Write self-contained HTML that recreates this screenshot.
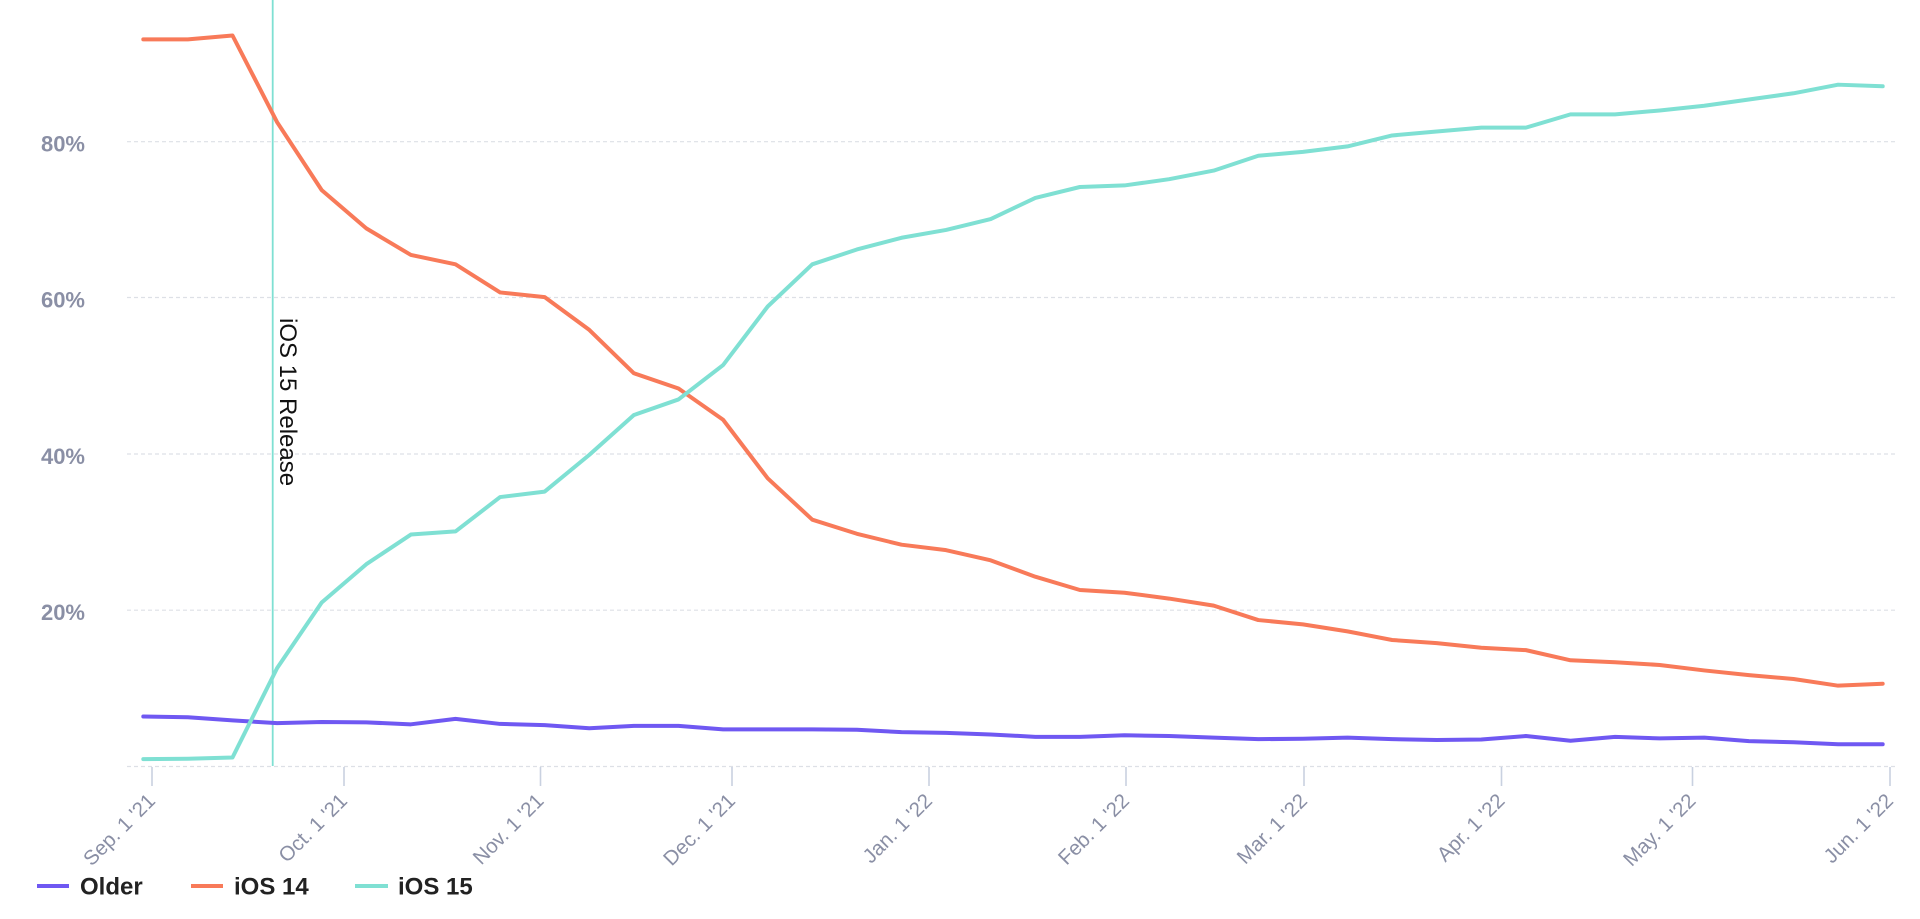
<!DOCTYPE html>
<html>
<head>
<meta charset="utf-8">
<style>
  html, body { margin: 0; padding: 0; background: #ffffff; }
  svg { display: block; }
  .ylab { font-family: "Liberation Sans", Arial, sans-serif; font-weight: bold; font-size: 22px; fill: #8a8fa5; }
  .xlab { font-family: "Liberation Sans", Arial, sans-serif; font-size: 20.5px; fill: #8a8fa5; }
  .leg { font-family: "Liberation Sans", Arial, sans-serif; font-weight: bold; font-size: 24px; fill: #222222; }
  .rel { font-family: "Liberation Sans", Arial, sans-serif; font-size: 24px; fill: #111111; }
</style>
</head>
<body>
<svg width="1920" height="919" viewBox="0 0 1920 919" xmlns="http://www.w3.org/2000/svg">
  <rect x="0" y="0" width="1920" height="919" fill="#ffffff"/>

  <!-- grid lines -->
  <g stroke="#dde0e6" stroke-width="1.2" stroke-dasharray="4,3" fill="none">
    <line x1="127" y1="141.7" x2="1897" y2="141.7"/>
    <line x1="127" y1="297.5" x2="1897" y2="297.5"/>
    <line x1="127" y1="454" x2="1897" y2="454"/>
    <line x1="127" y1="610.2" x2="1897" y2="610.2"/>
    <line x1="127" y1="766.5" x2="1897" y2="766.5"/>
  </g>

  <!-- y labels -->
  <text class="ylab" x="85" y="151.5" text-anchor="end">80%</text>
  <text class="ylab" x="85" y="307.3" text-anchor="end">60%</text>
  <text class="ylab" x="85" y="463.8" text-anchor="end">40%</text>
  <text class="ylab" x="85" y="620" text-anchor="end">20%</text>

  <!-- x ticks -->
  <g stroke="#c9d1e0" stroke-width="1.6">
    <line x1="152" y1="767" x2="152" y2="786"/>
    <line x1="344" y1="767" x2="344" y2="786"/>
    <line x1="540.5" y1="767" x2="540.5" y2="786"/>
    <line x1="732" y1="767" x2="732" y2="786"/>
    <line x1="929" y1="767" x2="929" y2="786"/>
    <line x1="1126" y1="767" x2="1126" y2="786"/>
    <line x1="1304" y1="767" x2="1304" y2="786"/>
    <line x1="1501.5" y1="767" x2="1501.5" y2="786"/>
    <line x1="1692.5" y1="767" x2="1692.5" y2="786"/>
    <line x1="1890" y1="767" x2="1890" y2="786"/>
  </g>

  <!-- x labels -->
  <text class="xlab" text-anchor="end" transform="translate(156.5,802) rotate(-45)">Sep. 1 '21</text>
  <text class="xlab" text-anchor="end" transform="translate(348.5,802) rotate(-45)">Oct. 1 '21</text>
  <text class="xlab" text-anchor="end" transform="translate(545,802) rotate(-45)">Nov. 1 '21</text>
  <text class="xlab" text-anchor="end" transform="translate(736.5,802) rotate(-45)">Dec. 1 '21</text>
  <text class="xlab" text-anchor="end" transform="translate(933.5,802) rotate(-45)">Jan. 1 '22</text>
  <text class="xlab" text-anchor="end" transform="translate(1130.5,802) rotate(-45)">Feb. 1 '22</text>
  <text class="xlab" text-anchor="end" transform="translate(1308.5,802) rotate(-45)">Mar. 1 '22</text>
  <text class="xlab" text-anchor="end" transform="translate(1506,802) rotate(-45)">Apr. 1 '22</text>
  <text class="xlab" text-anchor="end" transform="translate(1697,802) rotate(-45)">May. 1 '22</text>
  <text class="xlab" text-anchor="end" transform="translate(1894.5,802) rotate(-45)">Jun. 1 '22</text>

  <!-- release line -->
  <line x1="272.7" y1="0" x2="272.7" y2="766" stroke="#7fe0d3" stroke-width="1.8"/>
  <text class="rel" transform="translate(280,318) rotate(90)">iOS 15 Release</text>

  <!-- series -->
  <g transform="translate(143.3,766.5) scale(44.6,-7.81)" fill="none" stroke-linejoin="round" stroke-linecap="round">
    <polyline vector-effect="non-scaling-stroke" stroke="#6f58f2" stroke-width="4"
      points="0,6.4 1,6.3 2,5.9 3,5.55 4,5.7 5,5.65 6,5.4 7,6.1 8,5.45 9,5.3 10,4.9 11,5.2 12,5.2 13,4.75 14,4.75 15,4.75 16,4.7 17,4.4 18,4.3 19,4.1 20,3.8 21,3.8 22,4.0 23,3.9 24,3.7 25,3.5 26,3.55 27,3.7 28,3.5 29,3.4 30,3.45 31,3.9 32,3.3 33,3.8 34,3.6 35,3.7 36,3.25 37,3.1 38,2.85 39,2.85"/>
    <polyline vector-effect="non-scaling-stroke" stroke="#f87a59" stroke-width="4"
      points="0,93.1 1,93.1 2,93.6 3,82.5 4,73.8 5,68.9 6,65.5 7,64.3 8,60.7 9,60.1 10,55.9 11,50.35 12,48.4 13,44.4 14,36.9 15,31.6 16,29.8 17,28.4 18,27.7 19,26.4 20,24.3 21,22.6 22,22.25 23,21.5 24,20.6 25,18.75 26,18.2 27,17.3 28,16.2 29,15.8 30,15.2 31,14.9 32,13.6 33,13.35 34,13.0 35,12.3 36,11.7 37,11.2 38,10.35 39,10.6"/>
    <polyline vector-effect="non-scaling-stroke" stroke="#7fe0d3" stroke-width="4"
      points="0,0.95 1,1.0 2,1.15 3,12.6 4,21.0 5,25.9 6,29.7 7,30.1 8,34.5 9,35.2 10,39.9 11,45.0 12,47.0 13,51.4 14,58.9 15,64.3 16,66.2 17,67.7 18,68.7 19,70.1 20,72.8 21,74.2 22,74.4 23,75.2 24,76.3 25,78.2 26,78.7 27,79.4 28,80.8 29,81.3 30,81.8 31,81.8 32,83.5 33,83.5 34,84.0 35,84.6 36,85.4 37,86.2 38,87.3 39,87.1"/>
  </g>

  <!-- legend -->
  <line x1="37" y1="886" x2="69" y2="886" stroke="#6f58f2" stroke-width="4"/>
  <text class="leg" x="80" y="894.5">Older</text>
  <line x1="191" y1="886" x2="223" y2="886" stroke="#f87a59" stroke-width="4"/>
  <text class="leg" x="234" y="894.5">iOS 14</text>
  <line x1="355" y1="886" x2="388" y2="886" stroke="#7fe0d3" stroke-width="4"/>
  <text class="leg" x="398" y="894.5">iOS 15</text>
</svg>
</body>
</html>
